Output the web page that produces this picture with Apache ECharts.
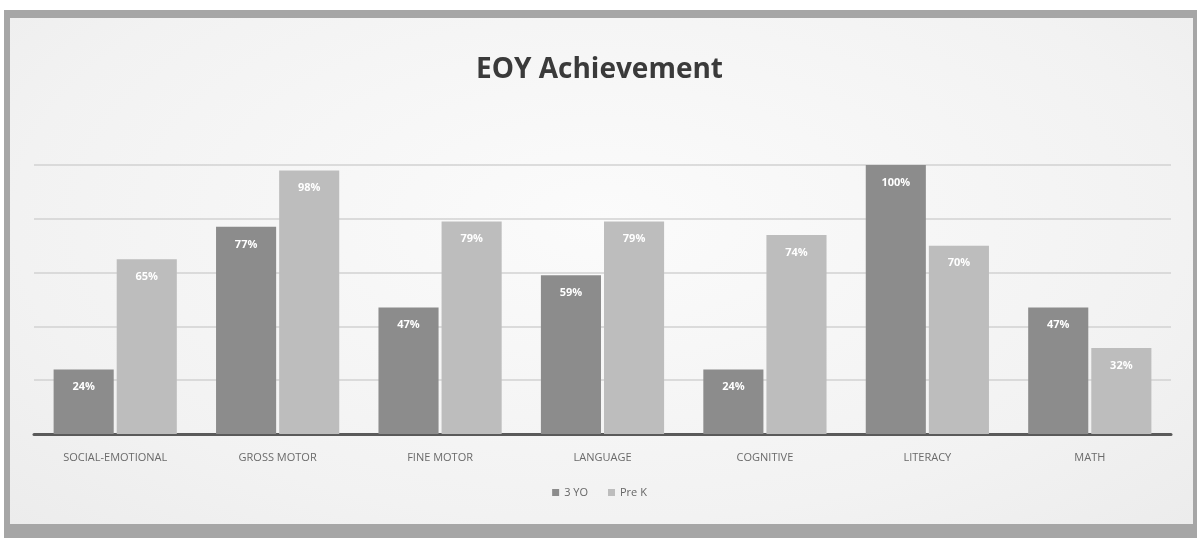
<!DOCTYPE html>
<html>
<head>
<meta charset="utf-8">
<script src="https://cdn.jsdelivr.net/npm/echarts@6/dist/echarts.min.js"></script>
<style>
  html, body { margin: 0; padding: 0; background: #ffffff; }
  #frame { position: absolute; left: 4px; top: 10px; width: 1193px; height: 528px; background: #a6a6a6; }
  #inner { position: absolute; left: 10px; top: 18px; width: 1183px; height: 506px;
           background: radial-gradient(ellipse at 50% 40%, #fbfbfb 0%, #f2f2f2 70%, #ececec 100%); }
  #chart { position: absolute; left: 0; top: 0; width: 1199px; height: 538px; }
</style>
</head>
<body>
<div id="frame"></div>
<div id="inner"></div>
<div id="chart"></div>
<script>
const categories = ['SOCIAL-EMOTIONAL', 'GROSS MOTOR', 'FINE MOTOR', 'LANGUAGE', 'COGNITIVE', 'LITERACY', 'MATH'];
const seriesNames = ['3 YO', 'Pre K'];
const threeYO = [24, 77, 47, 59, 24, 100, 47];
const preK = [65, 98, 79, 79, 74, 70, 32];

const chart = echarts.init(document.getElementById('chart'), null, { renderer: 'canvas' });
const labelCfg = {
  show: true, position: 'insideTop', distance: 12,
  color: '#ffffff', fontSize: 11, fontWeight: 'bold',
  fontFamily: 'Open Sans', formatter: p => p.value + '%'
};
chart.setOption({
  backgroundColor: 'transparent',
  animation: false,
  title: {
    text: 'EOY Achievement', left: 'center', top: 51,
    textStyle: { fontFamily: 'Open Sans', fontSize: 28, fontWeight: 'bold', color: '#3a3a3a' }
  },
  legend: {
    data: seriesNames, bottom: 35, left: 'center', itemWidth: 7, itemHeight: 7, itemGap: 20,
    icon: 'rect',
    textStyle: { fontFamily: 'Open Sans', fontSize: 11, color: '#666666' }
  },
  grid: { left: 34, right: 28, top: 165, bottom: 104 },
  xAxis: {
    type: 'category', data: categories,
    axisLine: { lineStyle: { color: '#5a5a5a', width: 3 } },
    axisTick: { show: false },
    axisLabel: { fontFamily: 'Open Sans', fontSize: 11, color: '#6a6a6a', margin: 18 }
  },
  yAxis: {
    type: 'value', min: 0, max: 100, interval: 20,
    axisLabel: { show: false }, axisLine: { show: false }, axisTick: { show: false },
    splitLine: { lineStyle: { color: '#d2d2d2', width: 1.5 } }
  },
  series: [
    { name: seriesNames[0], type: 'bar', data: threeYO, barWidth: '37%', barGap: '5%',
      itemStyle: { color: '#8c8c8c' }, label: labelCfg },
    { name: seriesNames[1], type: 'bar', data: preK, barWidth: '37%', barGap: '5%',
      itemStyle: { color: '#bdbdbd' }, label: labelCfg }
  ]
});
</script>
</body>
</html>
